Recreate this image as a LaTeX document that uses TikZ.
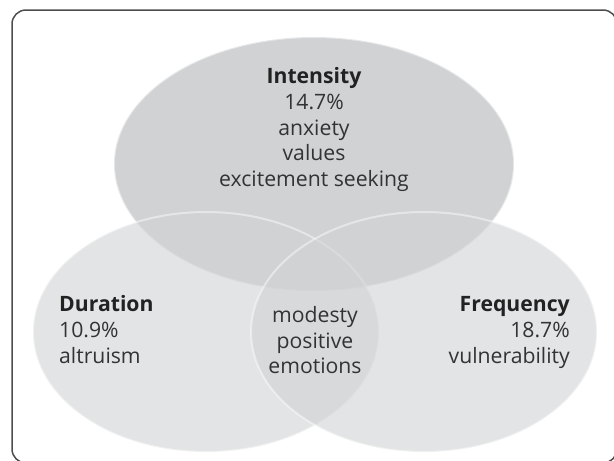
\documentclass[tikz,border=0pt]{standalone}
\usepackage{fontspec}
\setmainfont{Open Sans}
\begin{document}
\definecolor{framegray}{HTML}{4D4D4D}
\definecolor{setfill}{HTML}{D1D2D4}
\definecolor{labeltext}{HTML}{333333}
\definecolor{titletext}{HTML}{222222}
\begin{tikzpicture}[x=1pt,y=-1pt,
  setshape/.style={fill=setfill, draw=white, draw opacity=0.45, line width=2pt},
  txt/.style={inner sep=0pt, anchor=base, text=labeltext,
    font=\fontsize{21.2}{26}\selectfont},
  ttl/.style={txt, text=titletext, font=\fontsize{21.2}{26}\selectfont\bfseries},
]
\useasboundingbox (0,0) rectangle (614,461);
\clip (0,0) rectangle (614,461);

% outer frame
\draw[framegray, line width=1.5pt, rounded corners=14pt] (12,10) rectangle (617,463);

% the three sets
\path[setshape] (314,164) ellipse [x radius=200, y radius=127];
\path[setshape, fill opacity=0.6] (206,332) ellipse [x radius=173, y radius=120];
\path[setshape, fill opacity=0.6] (424,332) ellipse [x radius=173, y radius=120];

% Intensity
\node[ttl] (i1) at (314,83)  {Intensity};
\node[txt] (i2) at (314,109) {14.7\%};
\node[txt] (i3) at (314,135) {anxiety};
\node[txt] (i4) at (314,160) {values};
\node[txt] (i5) at (314,186) {excitement seeking};

% Duration
\node[ttl, anchor=base west] (d1) at (59,311) {Duration};
\node[txt, anchor=base west] (d2) at (59,337) {10.9\%};
\node[txt, anchor=base west] (d3) at (59,363) {altruism};

% Frequency
\node[ttl, anchor=base east] (f1) at (570,311) {Frequency};
\node[txt, anchor=base east] (f2) at (570,337) {18.7\%};
\node[txt, anchor=base east] (f3) at (570,363) {vulnerability};

% shared region
\node[txt] (m1) at (315,322) {modesty};
\node[txt] (m2) at (315,348) {positive};
\node[txt] (m3) at (315,373) {emotions};
\end{tikzpicture}
\end{document}
